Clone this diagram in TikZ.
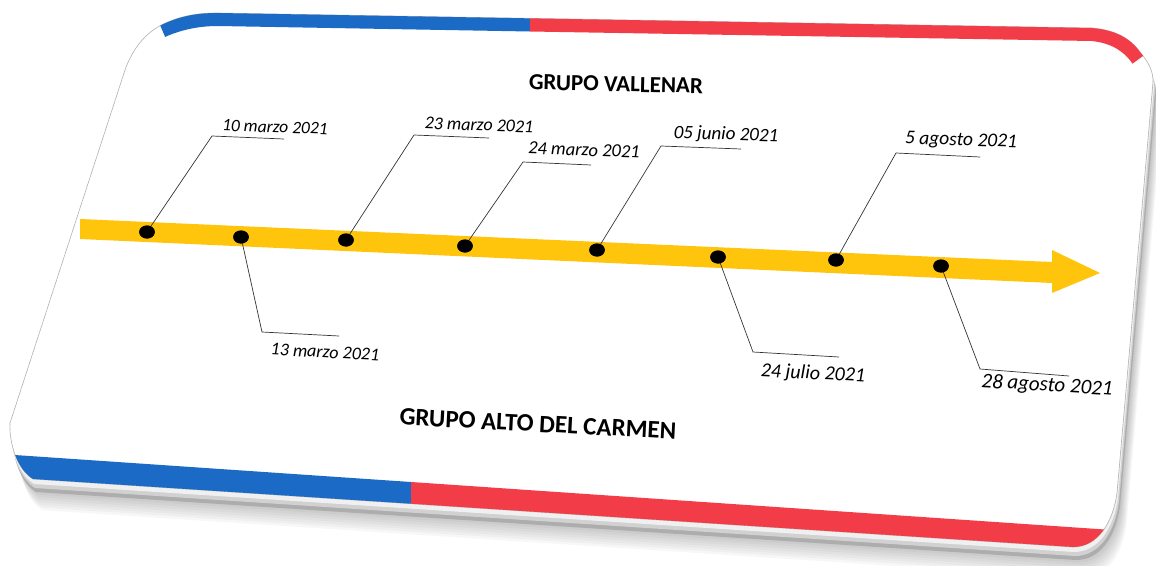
\documentclass[tikz,border=0pt]{standalone}
\usepackage{fontspec}
\setmainfont{Carlito}
\usetikzlibrary{shapes.geometric}

\definecolor{chileblue}{HTML}{1B6AC6}
\definecolor{chilered}{HTML}{F23C47}
\definecolor{gold}{HTML}{FFC40C}

% outline of the tilted card
\newcommand\cardshape{(10,423) -- (126,67) .. controls (135,45) and (148,30) .. (168,22)
  .. controls (185,15) and (200,13) .. (218,13) -- (1092,28)
  .. controls (1115,30) and (1130,38) .. (1140,52) .. controls (1150,64) and (1153,72) .. (1153,82)
  -- (1117,493) .. controls (1113,522) and (1098,547) .. (1073,547)
  -- (33,479) .. controls (18,470) and (9,445) .. (10,423) -- cycle}

\tikzset{
  hito/.style={ellipse,fill=black,minimum width=15.5pt,minimum height=13pt,inner sep=0pt},
  guia/.style={draw=black!80,line width=0.7pt},
  fecha/.style={font=\itshape\fontsize{#1}{#1}\selectfont,inner sep=0pt,rotate=-2},
  fecha/.default=19,
  grupo/.style={font=\bfseries\fontsize{#1}{#1}\selectfont,inner sep=0pt},
}

\begin{document}
\begin{tikzpicture}[x=1pt,y=-1pt]
\useasboundingbox (0,0) rectangle (1156,565);

% soft shadow and card edge
\foreach \k in {1,...,12}
  \fill[black,opacity=0.03,shift={(\k*0.8,\k*2.6)}] \cardshape;
\fill[black!32,shift={(3,13)}] \cardshape;
\fill[black!18,shift={(2,9)}] \cardshape;
\fill[black!6,shift={(1,5)}] \cardshape;

% card
\fill[white] \cardshape;
\draw[black!30,line width=0.6pt] \cardshape;
\begin{scope}
  \clip \cardshape;
  \draw[chileblue,line width=26pt] (160,25) .. controls (180,16) and (200,13) .. (218,13) -- (530,18.5);
  \draw[chilered,line width=26pt] (530,18.5) -- (1092,28) .. controls (1115,30) and (1132,40) .. (1143,56);
  \fill[chileblue] (0,454) -- (411,482) -- (411,600) -- (0,600) -- cycle;
  \fill[chilered] (411,482) -- (1156,533) -- (1156,600) -- (411,600) -- cycle;
\end{scope}

% timeline arrow
\fill[gold] (80,219) -- (1052,262) -- (1052,250) -- (1100,273) -- (1052,293)
  -- (1052,283) -- (80,239) -- cycle;

% headings
\node[grupo=23,rotate=-1.3] (vallenar) at (616,84) {GRUPO VALLENAR};
\node[grupo=25,rotate=-3] (carmen) at (538,424) {GRUPO ALTO DEL CARMEN};

% points on the line
\node[hito] (h1) at (147,232) {};
\node[hito] (h2) at (241,237) {};
\node[hito] (h3) at (346,240) {};
\node[hito] (h4) at (465,246) {};
\node[hito] (h5) at (597,250) {};
\node[hito] (h6) at (718,257) {};
\node[hito] (h7) at (836,260) {};
\node[hito] (h8) at (941,266) {};

% leaders
\coordinate (q1) at (212,136); \coordinate (r1) at (284,139);
\coordinate (q2) at (262,332); \coordinate (r2) at (339,336);
\coordinate (q3) at (414,135); \coordinate (r3) at (489,138);
\coordinate (q4) at (523,162); \coordinate (r4) at (591,165);
\coordinate (q5) at (661,146); \coordinate (r5) at (741,149);
\coordinate (q6) at (753,352); \coordinate (r6) at (839,357);
\coordinate (q7) at (896,153); \coordinate (r7) at (980,157);
\coordinate (q8) at (980,369); \coordinate (r8) at (1069,376);
\foreach \i in {1,...,8}
  \draw[guia] (h\i.center) -- (q\i) -- (r\i);
\foreach \i in {1,...,8}
  \node[hito] at (h\i) {};

% dates
\node[fecha=17.5] (f1) at (275,127) {10 marzo 2021};
\node[fecha=18,rotate=-1] (f2) at (325,352) {13 marzo 2021};
\node[fecha=18] (f3) at (479,125) {23 marzo 2021};
\node[fecha=18.5] (f4) at (584,150) {24 marzo 2021};
\node[fecha=19] (f5) at (726,135) {05 junio 2021};
\node[fecha=20,rotate=-1] (f6) at (813,374) {24 julio 2021};
\node[fecha=19.5] (f7) at (961,141) {5 agosto 2021};
\node[fecha=21,rotate=-1.5] (f8) at (1047,386) {28 agosto 2021};
\end{tikzpicture}
\end{document}
